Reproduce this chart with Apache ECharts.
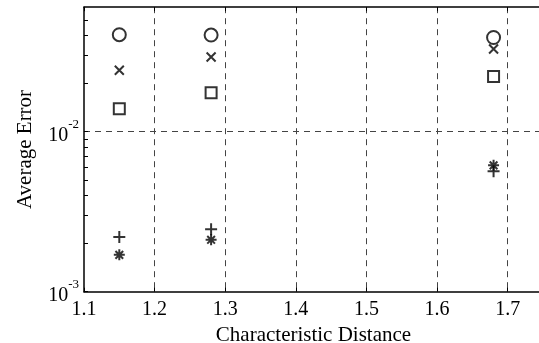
<!DOCTYPE html>
<html>
<head>
<meta charset="utf-8">
<script src="https://cdn.jsdelivr.net/npm/echarts@6/dist/echarts.min.js"></script>
<style>html,body{margin:0;padding:0;background:#fff;}#c{width:539px;height:343px;}</style>
</head>
<body>
<div id="c"></div>
<script>
const xs = [1.15, 1.28, 1.68];
const circleVals = [0.0404, 0.0402, 0.0388];
const crossVals = [0.0242, 0.0293, 0.0329];
const squareVals = [0.0139, 0.0175, 0.0221];
const plusVals = [0.00220, 0.00246, 0.00565];
const starVals = [0.00170, 0.00211, 0.00616];
const xTicks = [1.1, 1.2, 1.3, 1.4, 1.5, 1.6, 1.7];
const yMajor = [0.001, 0.01];
const yMinor = [0.002,0.003,0.004,0.005,0.006,0.007,0.008,0.009,0.02,0.03,0.04,0.05];

const FONT = '"Liberation Serif", "Times New Roman", serif';
const pair = vals => xs.map((x, i) => [x, vals[i]]);
const chart = echarts.init(document.getElementById('c'));
const mk = (name, vals, symbol, size) => ({
  name, type: 'scatter', data: pair(vals), symbol, symbolSize: size, symbolKeepAspect: true,
  itemStyle: { color: 'transparent', borderColor: '#000', borderWidth: 2 },
  emphasis: { disabled: true }, z: 5
});
const dash = { color: '#444', width: 1, type: [6, 5] };
chart.setOption({
  animation: false,
  backgroundColor: '#fff',
  grid: { left: 84, right: -4, top: 7.2, bottom: 51.3, containLabel: false, outerBoundsMode: 'none' },
  xAxis: [{
    type: 'value', min: 1.1, max: 1.75, interval: 0.1,
    name: 'Characteristic Distance', nameLocation: 'middle', nameGap: 22,
    nameTextStyle: { fontFamily: FONT, fontSize: 21, color: '#000' },
    axisLine: { show: true, lineStyle: { color: '#000', width: 1.5 } },
    axisTick: { inside: true, length: 4, lineStyle: { color: '#000' }, customValues: xTicks },
    axisLabel: { fontFamily: FONT, fontSize: 20, color: '#000', margin: 8,
      formatter: v => v.toFixed(1), customValues: xTicks },
    splitLine: { show: true, showMinLine: false, showMaxLine: true, lineStyle: dash }
  }, {
    type: 'value', position: 'top', min: 1.1, max: 1.75, interval: 0.1,
    axisLine: { show: true, onZero: false, lineStyle: { color: '#000', width: 1.5 } },
    axisTick: { show: true, inside: true, length: 4, lineStyle: { color: '#000' }, customValues: xTicks },
    axisLabel: { show: false }, splitLine: { show: false }
  }],
  yAxis: [{
    type: 'log', logBase: 10, min: 0.001, max: 0.06,
    name: 'Average Error', nameLocation: 'middle', nameGap: 48,
    nameTextStyle: { fontFamily: FONT, fontSize: 21, color: '#000' },
    axisLine: { show: true, lineStyle: { color: '#000', width: 1.5 } },
    axisTick: { show: true, inside: true, length: 4, lineStyle: { color: '#000' }, customValues: yMajor },
    axisLabel: {
      customValues: yMajor, margin: 5,
      formatter: v => '{b|10}{s|' + Math.round(Math.log10(v)) + '}',
      rich: {
        b: { fontFamily: FONT, fontSize: 20, color: '#000', verticalAlign: 'bottom' },
        s: { fontFamily: FONT, fontSize: 13, color: '#000', verticalAlign: 'top', padding: [0, 0, 15, 0] }
      }
    },
    splitLine: { show: true, showMinLine: false, showMaxLine: true, lineStyle: dash }
  }, {
    type: 'log', logBase: 10, min: 0.001, max: 0.06, position: 'left', offset: 0,
    axisLine: { show: false },
    axisTick: { show: true, inside: true, length: 4, lineStyle: { color: '#000' }, customValues: yMinor },
    axisLabel: { show: false }, splitLine: { show: false }
  }],
  series: [
    mk('circle', circleVals, 'circle', 13),
    mk('cross', crossVals, 'path://M0,0L10,10M10,0L0,10', 9),
    mk('square', squareVals, 'rect', 11),
    mk('plus', plusVals, 'path://M5,0L5,10M0,5L10,5', 12),
    mk('star', starVals, 'path://M5,0L5,10M0,5L10,5M1.5,1.5L8.5,8.5M8.5,1.5L1.5,8.5', 11)
  ]
});
</script>
</body>
</html>
